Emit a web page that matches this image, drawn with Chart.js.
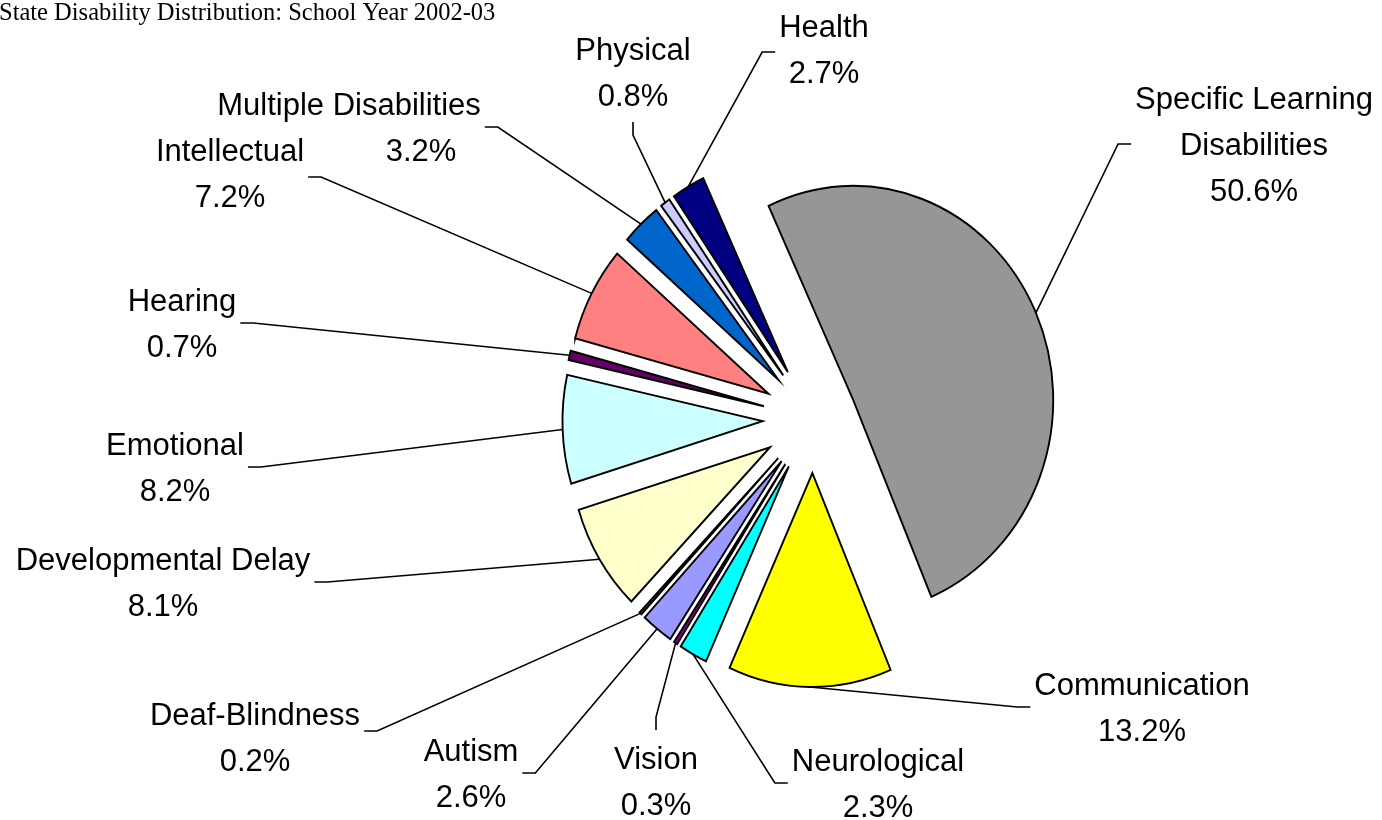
<!DOCTYPE html>
<html>
<head>
<meta charset="utf-8">
<title>State Disability Distribution</title>
<script src="https://cdn.jsdelivr.net/npm/chart.js@4.4.1/dist/chart.umd.min.js"></script>
<style>
  html, body { margin: 0; padding: 0; background: #fff; overflow: hidden; }
  #wrap { position: relative; width: 1382px; height: 820px; }
</style>
</head>
<body>
<div id="wrap"><canvas id="pie"></canvas></div>
<script>
// data, in the sheet's own order (Autism first, drawn clockwise)
const categories = ['Autism', 'Deaf-Blindness', 'Developmental Delay', 'Emotional', 'Hearing',
  'Intellectual', 'Multiple Disabilities', 'Physical', 'Health',
  'Specific Learning Disabilities', 'Communication', 'Neurological', 'Vision'];
const percents = [2.6, 0.2, 8.1, 8.2, 0.7, 7.2, 3.2, 0.8, 2.7, 50.6, 13.2, 2.3, 0.3];
const titleText = 'State Disability Distribution: School Year 2002-03';

// look
const sliceColors = ['#9999FF', '#993366', '#FFFFCC', '#CCFFFF', '#660066', '#FF8080',
  '#0066CC', '#CCCCFF', '#000080', '#969696', '#FFFF00', '#00FFFF', '#800080'];
const explode = [54, 54, 54, 54, 54, 54, 54, 54, 54, 47, 54, 54, 54];
const squashX = 0.935;   // the original pie is a little narrower than tall
const labelFont = '31px "Liberation Sans", Arial, sans-serif';
const lineGap = 46;

// where each label sits and which side its leader leaves from
const labelLayout = [
  { x: 471, y: 752, side: 'r' },            // Autism
  { x: 255, y: 716, side: 'r', dy: -6 },    // Deaf-Blindness
  { x: 163, y: 561, side: 'r' },            // Developmental Delay
  { x: 175, y: 446, side: 'r' },            // Emotional
  { x: 182, y: 302, side: 'r' },            // Hearing
  { x: 230, y: 152, side: 'r', dy: 4 },     // Intellectual
  { x: 349, y: 106, side: 'r', pctX: 421 }, // Multiple Disabilities
  { x: 633, y: 51, side: 'b' },             // Physical
  { x: 824, y: 28, side: 'l', dy: 3 },      // Health
  { x: 1254, y: 100, side: 'l', maxW: 260 },// Specific Learning Disabilities
  { x: 1142, y: 686, side: 'l' },           // Communication
  { x: 878, y: 762, side: 'l' },            // Neurological
  { x: 656, y: 760, side: 't' }             // Vision
];

function wrapText(ctx, text, maxW) {
  const words = text.split(' ');
  const out = [];
  let cur = '';
  words.forEach(w => {
    const test = cur ? cur + ' ' + w : w;
    if (cur && ctx.measureText(test).width > maxW) {
      out.push(cur);
      cur = w;
    } else {
      cur = test;
    }
  });
  if (cur) out.push(cur);
  return out;
}

// draw each arc pulled out along its middle angle, on a slightly squashed pie
const explodedPie = {
  id: 'explodedPie',
  beforeDatasetDraw(chart, args) {
    const ctx = chart.ctx;
    const arcs = args.meta.data;
    if (!arcs.length) return;
    const cx = arcs[0].x, cy = arcs[0].y;
    ctx.save();
    ctx.translate(cx, cy);
    ctx.scale(squashX, 1);
    ctx.translate(-cx, -cy);
    arcs.forEach((arc, i) => {
      const mid = (arc.startAngle + arc.endAngle) / 2;
      ctx.save();
      ctx.translate(Math.cos(mid) * explode[i], Math.sin(mid) * explode[i]);
      arc.draw(ctx);
      ctx.restore();
    });
    ctx.restore();
    return false;
  }
};

const pieLabels = {
  id: 'pieLabels',
  afterDraw(chart) {
    const ctx = chart.ctx;
    const arcs = chart.getDatasetMeta(0).data;
    ctx.save();
    ctx.fillStyle = '#000';
    ctx.font = '24.5px "Liberation Serif", "Times New Roman", serif';
    ctx.textAlign = 'left';
    ctx.textBaseline = 'alphabetic';
    ctx.fillText(titleText, -1, 20);

    ctx.font = labelFont;
    ctx.textAlign = 'center';
    ctx.textBaseline = 'middle';
    ctx.strokeStyle = '#000';
    ctx.lineWidth = 1.6;
    arcs.forEach((arc, i) => {
      const lay = labelLayout[i];
      const lines = wrapText(ctx, categories[i], lay.maxW || 9999);
      lines.push(percents[i].toFixed(1) + '%');
      lines.forEach((t, k) => {
        const x = (k === lines.length - 1 && lay.pctX) ? lay.pctX : lay.x;
        ctx.fillText(t, x, lay.y + k * lineGap);
      });
      const w = Math.max(...lines.map(t => ctx.measureText(t).width));
      const last = lay.y + (lines.length - 1) * lineGap;
      const midY = (lay.y + last) / 2 - 2 + (lay.dy || 0);
      let a, b;
      if (lay.side === 'r') {
        a = [lay.x + w / 2 + 4, midY]; b = [a[0] + 13, midY];
      } else if (lay.side === 'l') {
        a = [lay.x - w / 2 - 4, midY]; b = [a[0] - 13, midY];
      } else if (lay.side === 'b') {
        a = [lay.x, last + 25]; b = [lay.x, last + 38];
      } else {
        a = [lay.x, lay.y - 30]; b = [lay.x, lay.y - 43];
      }
      const mid = (arc.startAngle + arc.endAngle) / 2;
      const r = arc.outerRadius + explode[i];
      const ex = arc.x + squashX * Math.cos(mid) * r;
      const ey = arc.y + Math.sin(mid) * r;
      ctx.beginPath();
      ctx.moveTo(a[0], a[1]);
      ctx.lineTo(b[0], b[1]);
      ctx.lineTo(ex, ey);
      ctx.stroke();
    });
    ctx.restore();
  }
};

new Chart(document.getElementById('pie'), {
  type: 'pie',
  data: {
    labels: categories,
    datasets: [{
      data: percents,
      backgroundColor: sliceColors,
      borderColor: '#000',
      borderWidth: 2,
      borderJoinStyle: 'miter'
    }]
  },
  options: {
    responsive: true,
    maintainAspectRatio: false,
    animation: false,
    events: [],
    rotation: 213.8,
    radius: 214,
    layout: { padding: { left: 244, top: 18, right: 0, bottom: 0 } },
    plugins: {
      legend: { display: false },
      tooltip: { enabled: false },
      title: { display: false }
    }
  },
  plugins: [explodedPie, pieLabels]
});
</script>
</body>
</html>
